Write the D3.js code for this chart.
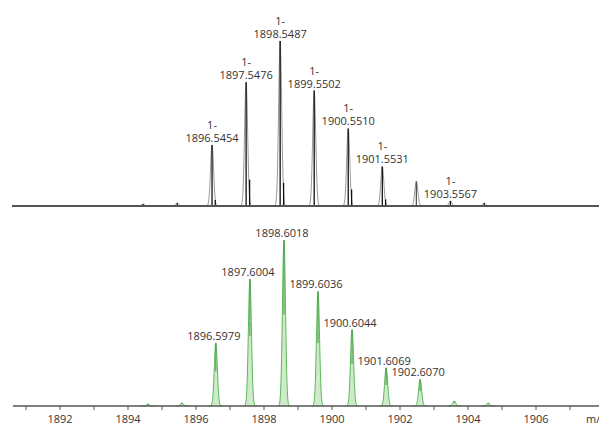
<!DOCTYPE html>
<html>
<head>
<meta charset="utf-8">
<script src="https://cdn.jsdelivr.net/npm/d3@7"></script>
<style>
  body { margin: 0; background: #fff; }
  text { font-family: "Open Sans", sans-serif; fill: #333; }
</style>
</head>
<body>
<svg id="chart" width="599" height="427"></svg>
<script>
// top spectrum (theoretical, labelled "1-")
const topMz = [1894.52, 1895.52, 1896.5454, 1897.5476, 1898.5487, 1899.5502, 1900.5510, 1901.5531, 1902.5545, 1903.5567, 1904.55];
const topInt = [1.2, 1.8, 37, 75, 100, 70, 47, 24, 15, 3, 1.8];
const topLabel = [null, null, '1896.5454', '1897.5476', '1898.5487', '1899.5502', '1900.5510', '1901.5531', null, '1903.5567', null];
// short black sticks next to the top peaks
const stickMz = [1896.64, 1897.65, 1898.65, 1900.65, 1901.65];
const stickInt = [3.6, 16, 14, 10, 4];

// bottom spectrum (measured, green)
const botMz = [1894.60, 1895.60, 1896.5979, 1897.6004, 1898.6018, 1899.6036, 1900.6044, 1901.6069, 1902.6070, 1903.61, 1904.61];
const botInt = [1.2, 1.8, 38, 76.5, 100, 69, 46, 23, 16, 3, 1.8];
const botLabel = [null, null, '1896.5979', '1897.6004', '1898.6018', '1899.6036', '1900.6044', '1901.6069', '1902.6070', null, null];

const tickValues = d3.range(1891, 1908);
const tickLabels = [1892, 1894, 1896, 1898, 1900, 1902, 1904, 1906];

const svg = d3.select('#chart');
const x = d3.scaleLinear().domain([1892, 1906]).range([59.5, 535.5]);
const xTop = x.copy().range([57.5, 533.5]);   // top trace sits ~2px left

const yTop = d3.scaleLinear().domain([0, 100]).range([206, 41]);
const yBot = d3.scaleLinear().domain([0, 100]).range([406, 240]);

const SIGMA = 0.045;
function profile(mz, inten) {
    return d3.range(-0.2, 0.2001, 0.01).map(d => [mz + d, inten * Math.exp(-d * d / (2 * SIGMA * SIGMA))]);
}

// ---- top panel ----
const topG = svg.append('g');
const topLine = d3.line().x(d => xTop(d[0])).y(d => yTop(d[1]));
topMz.forEach((mz, i) => {
    topG.append('path')
        .attr('d', topLine(profile(mz, topInt[i])))
        .attr('fill', '#fff')
        .attr('stroke', '#9a9a9a')
        .attr('stroke-width', 1);
    topG.append('line')
        .attr('x1', xTop(mz)).attr('x2', xTop(mz))
        .attr('y1', yTop(0)).attr('y2', yTop(topInt[i]))
        .attr('stroke', i === 8 ? '#555' : '#111')
        .attr('stroke-width', 1.3);
});
stickMz.forEach((mz, i) => {
    topG.append('line')
        .attr('x1', xTop(mz)).attr('x2', xTop(mz))
        .attr('y1', yTop(0)).attr('y2', yTop(stickInt[i]))
        .attr('stroke', '#111')
        .attr('stroke-width', 1.3);
});
topG.append('line')
    .attr('x1', 12).attr('x2', 599)
    .attr('y1', yTop(0)).attr('y2', yTop(0))
    .attr('stroke', '#555').attr('stroke-width', 2);

// two-line labels: "1-" above the m/z value
topMz.forEach((mz, i) => {
    if (!topLabel[i]) return;
    topG.append('text')
        .attr('x', xTop(mz)).attr('y', yTop(topInt[i]) - 16)
        .attr('text-anchor', 'middle')
        .attr('font-size', 11)
        .text('1-');
    topG.append('text')
        .attr('x', xTop(mz)).attr('y', yTop(topInt[i]) - 3)
        .attr('text-anchor', 'middle')
        .attr('font-size', 11)
        .text(topLabel[i]);
});

// ---- bottom panel ----
const botG = svg.append('g');
const botArea = d3.area().x(d => x(d[0])).y0(yBot(0)).y1(d => yBot(d[1]));
const botLine = d3.line().x(d => x(d[0])).y(d => yBot(d[1]));
botMz.forEach((mz, i) => {
    const pts = profile(mz, botInt[i]);
    botG.append('path').attr('d', botArea(pts)).attr('fill', '#cfeac9');
    botG.append('path').attr('d', botLine(pts))
        .attr('fill', 'none').attr('stroke', '#5cb85c').attr('stroke-width', 1);
    botG.append('line')
        .attr('x1', x(mz)).attr('x2', x(mz))
        .attr('y1', yBot(botInt[i] * 0.55)).attr('y2', yBot(botInt[i]))
        .attr('stroke', '#3e9a3e').attr('stroke-width', 1);
});
botMz.forEach((mz, i) => {
    if (!botLabel[i]) return;
    botG.append('text')
        .attr('x', x(mz) - 2)
        .attr('y', yBot(botInt[i]) - 3)
        .attr('text-anchor', 'middle')
        .attr('font-size', 11)
        .text(botLabel[i]);
});

// x axis
const axis = d3.axisBottom(x)
    .tickValues(tickValues)
    .tickSizeOuter(0)
    .tickSize(4)
    .tickFormat(d => tickLabels.includes(d) ? d : '');
const axG = svg.append('g')
    .attr('transform', `translate(0,${yBot(0)})`)
    .call(axis);
axG.select('.domain').attr('d', `M13,0H599`).attr('stroke', '#555').attr('stroke-width', 1.5);
axG.selectAll('.tick line').attr('stroke', '#555');
axG.selectAll('.tick text')
    .attr('font-family', '"Open Sans", sans-serif')
    .attr('font-size', 11)
    .attr('fill', '#333')
    .attr('dy', '0.9em');
// axis title runs off the right edge, as in the original
svg.append('text')
    .attr('x', 586).attr('y', 423)
    .attr('font-size', 11)
    .text('m/z');
</script>
</body>
</html>
